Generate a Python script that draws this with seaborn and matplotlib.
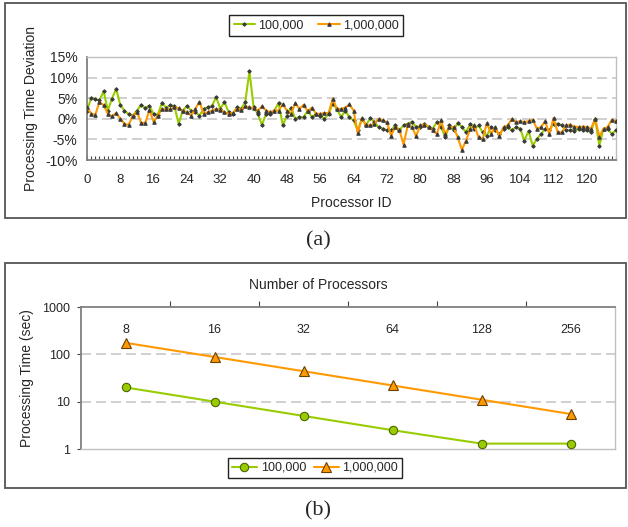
import matplotlib
matplotlib.use("Agg")
import matplotlib.pyplot as plt
import seaborn as sns
import pandas as pd
from matplotlib.patches import Rectangle

sns.set_theme(style="white")
plt.rcParams["font.family"] = ["Liberation Sans", "DejaVu Sans"]

# ---------------- data (a) ----------------
proc_ids = list(range(128))
dev_100k = [1.9, 5.1, 4.7, 4.5, 6.7, 2.0, 4.9, 7.3, 3.3, 2.0,
            1.1, 0.8, 2.0, 3.4, 2.6, 3.2, 1.1, 1.0, 3.9, 2.7,
            3.3, 3.0, -1.2, 2.0, 3.1, 2.0, 1.6, 0.8, 2.4, 2.8,
            3.1, 5.3, 2.4, 4.1, 1.6, 1.2, 2.8, 2.4, 4.1, 11.6,
            2.8, 1.2, -1.5, 1.2, 1.2, 2.0, 3.9, -1.6, 0.8, 2.7,
            0.0, 0.4, 0.4, 2.0, 0.4, 1.2, 0.8, 0.0, 1.2, 3.7,
            2.4, 0.4, 2.0, 0.4, -0.4, -2.8, 0.0, -1.6, 0.2, -0.8,
            -2.0, -2.4, -2.8, -2.8, -1.6, -2.8, -1.6, -1.2, -0.8, -1.9,
            -1.9, -1.2, -2.0, -2.4, -0.8, -1.9, -4.5, -1.6, -2.8, -1.0,
            -2.0, -3.3, -1.2, -2.4, -1.6, -3.3, -4.1, -2.0, -2.8, -3.7,
            -2.4, -2.0, -2.8, -2.0, -2.4, -5.3, -3.0, -6.5, -4.9, -3.7,
            -2.4, -2.8, -1.2, -1.2, -1.6, -2.8, -2.8, -3.0, -2.4, -2.8,
            -2.8, -3.1, 0.0, -6.5, -2.4, -2.4, -3.7, -2.7]
dev_1m = [2.9, 1.2, 1.0, 4.1, 3.3, 1.2, 0.6, 1.4, 0.0, -1.2,
          -1.5, 0.8, 1.6, -1.0, -1.0, 2.2, -0.8, 0.8, 2.4, 2.3,
          2.3, 2.8, 2.6, 2.0, 1.6, 0.8, 2.4, 4.1, 1.2, 1.6,
          2.0, 2.4, 2.2, 1.6, 1.2, 1.4, 2.4, 2.2, 3.0, 2.8,
          2.6, 2.0, 3.0, 2.0, 1.6, 2.0, 2.0, 3.5, 2.0, 1.2,
          3.8, 2.4, 3.4, 1.8, 2.7, 1.2, 1.2, 1.4, 1.4, 4.9,
          2.4, 2.4, 2.7, 3.5, 2.0, -3.5, 0.2, -1.6, -1.6, -1.2,
          0.0, -0.4, -0.8, -4.1, -2.0, -2.7, -6.3, -1.6, -1.9, -4.2,
          -1.6, -1.4, -1.9, -2.8, -3.7, -0.4, -3.7, -2.0, -2.0, -4.5,
          -7.5, -5.3, -2.4, -1.6, -4.5, -4.9, -1.0, -3.7, -2.0, -4.2,
          -2.0, -1.6, 0.0, -0.8, -0.6, -0.8, -0.6, -0.2, -2.4, -2.0,
          -0.6, -3.7, 0.2, -3.3, -3.3, -1.6, -1.4, -1.9, -2.0, -1.9,
          -2.0, -2.4, 0.0, -4.3, -2.4, -2.0, -0.2, -0.6]
id_ticks = list(range(0, 128, 8))
dev_ticks = [-10, -5, 0, 5, 10, 15]
dev_tick_labels = ["-10%", "-5%", "0%", "5%", "10%", "15%"]

# ---------------- data (b) ----------------
n_procs = ["8", "16", "32", "64", "128", "256"]
time_100k = [20, 10, 5, 2.5, 1.3, 1.3]
time_1m = [175, 88, 44, 22, 11, 5.5]
time_ticks = [1, 10, 100, 1000]
time_tick_labels = ["1", "10", "100", "1000"]
series_names = ["100,000", "1,000,000"]

GREEN = "#99CC00"
ORANGE = "#FF9900"
AXIS = "#808080"
LIGHT = "#C0C0C0"
GRID = "#C8C8C8"
FS = 9
FL = 10

W, H = 628, 527
fig = plt.figure(figsize=(W / 100, H / 100), dpi=100)
fig.patch.set_facecolor("white")


def fx(px):
    return px / W


def fy(py):
    return 1 - py / H


for (x0, y0, x1, y1) in [(5, 3, 626, 218), (5, 263, 626, 488)]:
    fig.patches.append(Rectangle((fx(x0), fy(y1)), fx(x1) - fx(x0), fy(y0) - fy(y1),
                                 transform=fig.transFigure, fill=False,
                                 edgecolor="#555555", lw=1.3))

# ================= panel (a) =================
ax1 = fig.add_axes([fx(87), fy(160), fx(616) - fx(87), fy(57) - fy(160)])
df_a1 = pd.DataFrame({"id": proc_ids, "dev": dev_100k})
df_a2 = pd.DataFrame({"id": proc_ids, "dev": dev_1m})
for v in [-5, 0, 5, 10]:
    ax1.axhline(v, color=GRID, lw=1.2, dashes=(6, 3), zorder=0)
sns.lineplot(data=df_a1, x="id", y="dev", ax=ax1, color=GREEN, lw=1.5,
             marker="D", markersize=1.8, markerfacecolor="#3a3a3a",
             markeredgecolor="#3a3a3a", label=series_names[0], zorder=3)
sns.lineplot(data=df_a2, x="id", y="dev", ax=ax1, color=ORANGE, lw=1.5,
             marker="^", markersize=2.5, markerfacecolor="#3a3a3a",
             markeredgecolor="#3a3a3a", label=series_names[1], zorder=4)
ax1.set_xlim(0, 127)
ax1.set_ylim(-10, 15)
ax1.set_xticks(id_ticks)
ax1.set_xticklabels([str(t) for t in id_ticks], fontsize=9.5)
ax1.set_xticks(proc_ids, minor=True)
ax1.tick_params(axis="x", which="both", direction="in", length=3, width=0.8,
                color="#444444", pad=10, bottom=True)
ax1.set_yticks(dev_ticks)
ax1.set_yticklabels(dev_tick_labels, fontsize=FL)
ax1.tick_params(axis="y", length=0, pad=7)
ax1.set_xlabel("Processor ID", fontsize=FL, labelpad=7)
ax1.set_ylabel("Processing Time Deviation", fontsize=FL, labelpad=5)
for s in ["left", "bottom"]:
    ax1.spines[s].set_color(AXIS)
    ax1.spines[s].set_linewidth(1.3)
for s in ["top", "right"]:
    ax1.spines[s].set_color(LIGHT)
    ax1.spines[s].set_linewidth(1.0)
leg1 = ax1.legend(loc="center", bbox_to_anchor=(fx(316), fy(25.5)),
                  bbox_transform=fig.transFigure, ncol=2, frameon=True,
                  fancybox=False, edgecolor="#222222", framealpha=1,
                  fontsize=FS, handlelength=1.7, columnspacing=1.2,
                  borderpad=0.35, handletextpad=0.25)
leg1.get_frame().set_linewidth(1.0)

fig.text(fx(318), fy(241), "(a)", ha="center", va="center",
         fontsize=16, family=["Liberation Serif", "DejaVu Serif"])

# ================= panel (b) =================
ax2 = fig.add_axes([fx(81), fy(449), fx(615) - fx(81), fy(307) - fy(449)])
pos = list(range(len(n_procs)))
df_b1 = pd.DataFrame({"n": pos, "t": time_100k})
df_b2 = pd.DataFrame({"n": pos, "t": time_1m})
ax2.set_yscale("log")
for v in [10, 100]:
    ax2.axhline(v, color=GRID, lw=1.2, dashes=(6, 3), zorder=0)
sns.lineplot(data=df_b1, x="n", y="t", ax=ax2, color=GREEN, lw=1.5,
             marker="o", markersize=6, markerfacecolor=GREEN,
             markeredgecolor="#4d6600", markeredgewidth=0.8,
             label=series_names[0], zorder=3)
sns.lineplot(data=df_b2, x="n", y="t", ax=ax2, color=ORANGE, lw=1.5,
             marker="^", markersize=7, markerfacecolor=ORANGE,
             markeredgecolor="#6b4000", markeredgewidth=0.8,
             label=series_names[1], zorder=4)
ax2.set_xlim(-0.5, len(n_procs) - 0.5)
ax2.set_ylim(1, 1000)
ax2.set_xticks(pos)
ax2.set_xticklabels(n_procs, fontsize=FS)
ax2.set_xticks([p + 0.5 for p in pos[:-1]], minor=True)
ax2.tick_params(axis="x", which="major", top=True, bottom=False,
                labeltop=True, labelbottom=False, length=0, pad=-21)
ax2.tick_params(axis="x", which="minor", top=True, bottom=False,
                direction="out", length=4, width=0.8, color="#444444")
ax2.set_yticks(time_ticks)
ax2.set_yticklabels(time_tick_labels, fontsize=FS)
ax2.yaxis.set_minor_locator(matplotlib.ticker.NullLocator())
ax2.tick_params(axis="y", which="major", left=True, direction="out",
                length=3, width=0.8, color="#444444", pad=5)
ax2.set_xlabel("")
ax2.set_ylabel("Processing Time (sec)", fontsize=FL, labelpad=6)
for s in ["left", "top"]:
    ax2.spines[s].set_color(AXIS)
    ax2.spines[s].set_linewidth(1.3)
for s in ["bottom", "right"]:
    ax2.spines[s].set_color(LIGHT)
    ax2.spines[s].set_linewidth(1.0)
fig.text(fx(318), fy(285), "Number of Processors", ha="center", va="center",
         fontsize=FL)
leg2 = ax2.legend(loc="center", bbox_to_anchor=(fx(315), fy(468)),
                  bbox_transform=fig.transFigure, ncol=2, frameon=True,
                  fancybox=False, edgecolor="#222222", framealpha=1,
                  fontsize=FS, handlelength=2.0, columnspacing=0.6,
                  borderpad=0.3, handletextpad=0.3)
leg2.get_frame().set_linewidth(1.0)

fig.text(fx(318), fy(511), "(b)", ha="center", va="center",
         fontsize=16, family=["Liberation Serif", "DejaVu Serif"])

fig.savefig("out.png", dpi=100, facecolor="white")
